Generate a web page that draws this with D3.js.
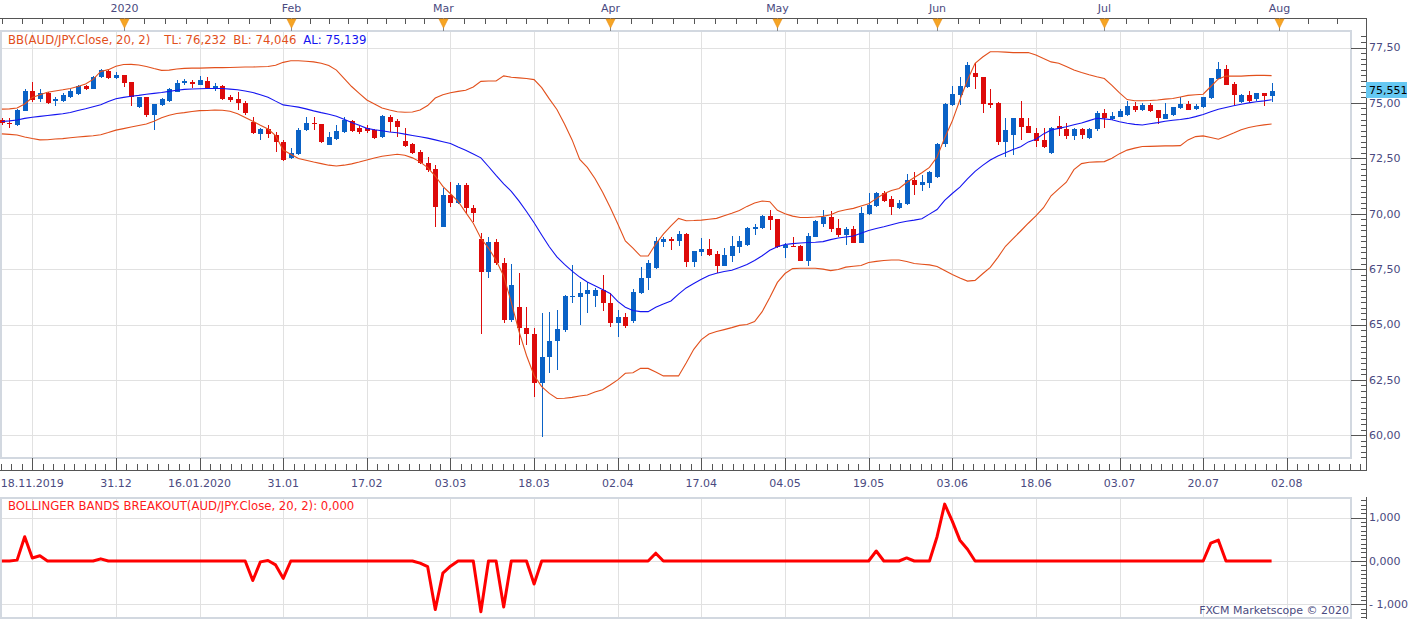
<!DOCTYPE html>
<html><head><meta charset="utf-8">
<script src="https://cdn.jsdelivr.net/npm/d3@7"></script>
<style>
html,body{margin:0;padding:0;background:#fff;}
svg{display:block;font-family:"DejaVu Sans",Verdana,sans-serif;}
</style>
</head><body>
<svg id="c" width="1423" height="619"></svg>
<script>
// ---------- DATA (bar index starts at -4) ----------
const firstIndex = -4;
const opens = [74.23,74.11,74.00,74.65,75.55,75.16,75.43,75.07,75.07,75.28,75.40,75.76,75.64,76.16,76.45,76.12,76.26,75.94,74.80,75.25,74.45,74.92,75.09,75.51,75.88,75.96,75.82,76.00,75.64,75.76,75.25,75.16,75.01,74.15,73.60,73.81,73.56,73.25,72.50,72.69,73.78,74.11,74.05,73.10,73.36,73.70,74.20,73.85,73.88,73.78,73.45,74.38,74.20,73.29,73.15,72.80,72.30,72.02,69.41,70.84,70.47,71.30,70.27,68.84,67.38,68.74,67.76,65.20,65.80,64.83,64.57,62.35,63.55,64.26,64.75,66.26,66.25,66.38,66.29,66.56,65.96,65.05,65.32,65.17,66.41,67.08,67.54,68.74,68.86,68.78,69.08,67.83,68.29,68.41,68.18,67.65,68.09,68.51,68.59,69.32,69.35,69.90,69.76,68.47,68.54,68.54,67.88,68.96,69.54,69.84,69.34,69.04,69.31,68.69,69.99,70.35,70.92,70.66,70.24,70.44,71.52,71.29,71.37,71.67,73.15,74.90,75.36,75.73,76.36,76.16,74.98,74.98,73.25,73.55,74.31,73.96,73.66,73.33,72.73,73.96,73.81,73.51,73.82,73.43,73.81,74.53,74.29,74.38,74.45,74.86,74.68,74.91,74.68,74.26,74.45,74.76,74.95,74.71,74.80,75.21,76.08,76.53,75.85,75.05,75.36,75.16,75.43,75.31];
const highs = [74.32,74.31,74.73,75.61,75.96,75.63,75.49,75.25,75.43,75.63,75.81,75.79,76.21,76.52,76.48,76.41,76.28,75.96,75.28,75.27,74.97,75.20,75.66,76.03,76.07,76.03,76.21,76.16,75.88,75.81,75.36,75.51,75.09,74.35,73.87,74.00,73.69,73.33,72.97,73.85,74.35,74.38,74.07,73.69,74.00,74.35,74.23,73.96,74.00,73.82,74.45,74.45,74.27,73.88,73.19,72.87,72.57,72.20,71.16,71.44,71.40,71.37,70.39,69.12,68.94,68.86,67.99,67.73,67.31,65.80,64.83,65.51,65.58,65.65,66.35,67.68,66.93,66.93,66.63,67.23,66.41,65.65,65.53,66.59,67.61,67.91,68.93,68.96,68.93,69.22,69.12,68.32,68.89,68.86,68.32,68.44,68.99,68.99,69.41,69.54,69.94,70.17,69.76,68.66,68.94,68.59,69.12,69.72,70.17,70.14,69.75,69.41,69.44,70.30,70.95,70.99,71.02,70.81,70.62,71.78,71.90,71.75,71.94,73.19,75.00,75.76,76.16,76.86,76.79,76.18,75.61,75.05,74.31,74.31,75.10,74.31,73.85,73.85,73.93,74.41,74.11,73.85,73.88,73.85,74.63,74.71,74.60,74.71,75.10,75.05,74.98,74.98,74.68,74.98,74.83,75.28,75.09,74.95,75.28,76.14,76.86,76.71,75.96,75.40,75.55,75.46,75.46,75.91];
const lows = [73.99,73.88,73.96,74.63,75.05,75.05,74.95,74.86,75.04,75.24,75.36,75.60,75.61,76.12,76.10,76.09,75.73,74.86,74.76,74.38,73.78,74.88,75.05,75.47,75.81,75.66,75.81,75.63,75.55,75.13,75.05,74.68,74.45,73.60,73.33,73.40,72.78,72.38,72.47,72.65,73.73,73.78,73.21,73.08,73.33,73.66,73.69,73.60,73.66,73.37,73.42,73.70,73.48,73.03,72.69,72.24,71.90,69.41,69.38,70.32,70.44,70.02,69.64,64.56,67.08,67.69,65.08,65.13,64.07,64.07,61.71,59.91,62.80,62.95,64.68,65.96,64.98,65.51,65.80,65.62,64.90,64.42,64.83,65.05,66.38,66.56,67.50,68.51,68.36,68.54,67.61,67.61,68.09,68.09,67.34,67.64,67.83,68.24,68.54,69.04,69.32,69.26,68.47,68.01,68.48,67.88,67.64,68.94,69.39,69.19,68.94,68.59,68.69,68.68,69.94,70.29,70.54,69.94,70.20,70.39,70.84,71.04,71.17,71.60,73.02,74.86,74.90,75.66,75.61,74.53,74.76,73.10,72.57,72.65,73.33,73.63,73.02,72.95,72.69,73.51,73.36,73.33,73.36,73.36,73.75,73.85,74.23,74.35,74.41,74.60,74.63,74.60,74.05,74.26,74.43,74.71,74.68,74.68,74.76,75.16,76.07,75.81,74.91,75.01,74.99,75.10,74.86,75.05];
const closes = [74.11,74.05,74.68,75.55,75.13,75.43,75.01,75.16,75.34,75.55,75.76,75.64,76.16,76.48,76.12,76.25,75.91,75.28,75.25,74.45,74.94,75.16,75.61,75.91,75.99,75.85,76.03,75.66,75.76,75.18,75.13,74.98,74.56,73.63,73.81,73.60,73.25,72.42,72.74,73.78,74.08,74.05,73.25,73.45,73.75,74.23,73.75,73.70,73.75,73.43,74.41,74.15,73.93,73.07,72.73,72.27,71.97,70.32,70.84,70.47,71.30,70.24,70.02,67.38,68.74,67.76,65.20,66.78,64.83,64.56,62.35,63.55,64.26,64.78,66.30,66.30,66.41,66.56,66.56,65.96,65.05,65.35,64.93,66.48,67.11,67.76,68.78,68.86,68.78,69.08,67.83,68.32,68.41,68.14,67.65,68.14,68.54,68.78,69.37,69.41,69.90,69.72,68.51,68.59,68.51,67.88,68.99,69.68,69.84,69.31,69.04,69.31,68.69,70.05,70.39,70.92,70.59,70.32,70.50,71.52,71.29,71.44,71.90,73.15,74.95,75.40,75.76,76.71,76.16,74.95,74.94,73.25,73.78,74.31,73.93,73.66,73.29,73.02,73.85,73.81,73.51,73.82,73.55,73.82,74.56,74.31,74.41,74.65,74.86,74.68,74.91,74.63,74.31,74.49,74.80,74.95,74.68,74.86,75.25,76.11,76.53,75.81,75.36,75.36,75.10,75.43,75.31,75.551];
const upperBand = [74.72,74.73,74.77,74.95,75.24,75.37,75.48,75.54,75.59,75.65,75.74,75.85,76.06,76.42,76.50,76.65,76.73,76.74,76.71,76.64,76.55,76.47,76.48,76.53,76.56,76.57,76.57,76.58,76.59,76.59,76.60,76.61,76.62,76.62,76.63,76.64,76.70,76.83,76.90,76.90,76.88,76.85,76.79,76.69,76.48,76.11,75.74,75.43,75.13,74.95,74.77,74.68,74.60,74.58,74.59,74.68,74.88,75.22,75.37,75.46,75.52,75.57,75.72,75.97,75.99,75.99,76.22,76.16,76.13,76.10,76.05,75.69,75.18,74.70,74.05,73.33,72.45,72.09,71.59,70.98,70.29,69.55,68.77,68.45,68.09,68.09,68.63,69.08,69.45,69.79,69.68,69.69,69.71,69.75,69.79,69.91,70.02,70.14,70.33,70.48,70.57,70.54,70.15,70.00,69.89,69.83,69.83,69.85,69.88,69.95,70.10,70.18,70.24,70.35,70.45,70.68,70.90,71.05,71.14,71.41,71.63,71.85,72.09,72.56,73.42,74.18,75.13,76.03,76.79,77.07,77.31,77.31,77.29,77.27,77.27,77.27,77.16,77.00,76.85,76.79,76.64,76.48,76.37,76.27,76.18,76.10,75.79,75.45,75.15,75.10,75.10,75.11,75.13,75.17,75.20,75.27,75.34,75.37,75.39,75.74,76.08,76.21,76.21,76.21,76.23,76.24,76.24,76.23];
const middleBand = [74.16,74.19,74.23,74.30,74.35,74.39,74.43,74.47,74.51,74.57,74.66,74.74,74.83,74.92,75.06,75.19,75.25,75.30,75.34,75.39,75.43,75.47,75.52,75.57,75.61,75.63,75.64,75.65,75.65,75.65,75.62,75.59,75.54,75.47,75.37,75.26,75.08,74.91,74.86,74.81,74.73,74.64,74.56,74.49,74.40,74.26,74.12,73.99,73.85,73.79,73.74,73.69,73.65,73.59,73.53,73.47,73.41,73.33,73.25,73.17,73.01,72.86,72.69,72.52,72.13,71.73,71.35,71.01,70.58,70.10,69.59,69.04,68.51,68.05,67.71,67.41,67.14,66.92,66.75,66.58,66.40,66.04,65.78,65.63,65.58,65.58,65.78,65.92,66.06,66.37,66.65,66.85,67.04,67.21,67.31,67.39,67.45,67.57,67.71,67.89,68.10,68.35,68.51,68.61,68.65,68.68,68.70,68.71,68.74,68.83,68.90,68.95,68.99,69.12,69.24,69.33,69.41,69.50,69.59,69.66,69.71,69.77,69.98,70.19,70.60,70.91,71.20,71.57,71.91,72.18,72.42,72.60,72.75,72.90,73.02,73.24,73.36,73.60,73.78,73.85,73.92,74.01,74.09,74.20,74.31,74.28,74.24,74.15,74.08,74.03,74.00,74.06,74.11,74.17,74.22,74.25,74.30,74.38,74.48,74.60,74.71,74.79,74.87,74.94,75.00,75.05,75.09,75.14];
const lowerBand = [73.60,73.58,73.55,73.46,73.39,73.33,73.34,73.37,73.39,73.43,73.46,73.49,73.52,73.56,73.66,73.77,73.84,73.91,73.98,74.05,74.17,74.33,74.44,74.52,74.56,74.61,74.65,74.66,74.68,74.67,74.62,74.51,74.34,74.17,73.99,73.82,73.52,72.87,72.68,72.49,72.41,72.33,72.26,72.19,72.15,72.19,72.25,72.33,72.42,72.51,72.59,72.64,72.68,72.64,72.52,72.34,72.08,71.70,71.23,70.90,70.56,70.06,69.57,68.89,68.45,67.90,67.19,66.00,64.70,63.60,62.70,62.20,61.89,61.66,61.67,61.71,61.77,61.82,61.95,62.06,62.27,62.50,62.80,62.82,63.02,63.02,62.86,62.68,62.68,62.68,63.26,63.88,64.32,64.57,64.68,64.77,64.86,64.96,65.00,65.13,65.58,66.22,66.90,67.30,67.52,67.54,67.54,67.54,67.50,67.43,67.48,67.59,67.63,67.66,67.80,67.85,67.89,67.91,67.91,67.84,67.75,67.72,67.69,67.62,67.44,67.26,67.10,66.96,66.99,67.29,67.58,68.03,68.53,68.88,69.22,69.57,69.90,70.27,70.81,71.12,71.42,71.99,72.26,72.32,72.34,72.35,72.50,72.71,72.87,72.96,73.03,73.04,73.05,73.06,73.06,73.07,73.33,73.48,73.51,73.44,73.36,73.50,73.64,73.79,73.89,73.96,74.01,74.05];
const breakout = [
  0,0,0.02,0.56,0.07,0.12,0,0,0,0,
  0,0,0,0.05,0,0,0,0,0,0,
  0,0,0,0,0,0,0,0,0,0,
  0,0,0,-0.45,-0.02,0.01,-0.09,-0.40,0,0,
  0,0,0,0,0,0,0,0,0,0,
  0,0,0,0,0,-0.05,-0.13,-1.12,-0.28,-0.12,
  0,0,0,-1.17,0,0,-1.06,0,0,0,
  -0.53,0,0,0,0,0,0,0,0,0,
  0,0,0,0,0,0,0.18,0,0,0,
  0,0,0,0,0,0,0,0,0,0,
  0,0,0,0,0,0,0,0,0,0,
  0,0,0,0,0,0.23,0,0,0,0.07,
  0,0,0,0.56,1.31,0.92,0.48,0.27,0,0,
  0,0,0,0,0,0,0,0,0,0,
  0,0,0,0,0,0,0,0,0,0,
  0,0,0,0,0,0,0,0,0,0.41,
  0.48,0,0,0,0,0,0,0];
const dateTickLabels = ["18.11.2019","31.12","16.01.2020","31.01","17.02","03.03","18.03","02.04","17.04","04.05","19.05","03.06","18.06","03.07","20.07","02.08"];
const dateTickIndex = [0,11,22,33,44,55,66,77,88,99,110,121,132,143,154,165];
const monthLabels = ["2020","Feb","Mar","Apr","May","Jun","Jul","Aug"];
const monthIndex = [12,34,54,76,98,119,141,164];
const priceTicks = [60,62.5,65,67.5,70,72.5,75,77.5];
const breakoutTicks = [-1,0,1];
const legendParts = ["BB(AUD/JPY.Close, 20, 2)","TL: 76,232","BL: 74,046","AL: 75,139"];
const lastPrice = 75.551;

// ---------- STYLE ----------
const C = {
  up:"#0a62c6", down:"#dd0a0a", band:"#e2501c", mid:"#1414f0", brk:"#ff0000",
  grid:"#e1e1e1", frame:"#d2d8e0", axis:"#555", txt:"#4a4a80", tri:"#f6a524",
  priceBox:"#66c8f2"
};
const legendX = [8, 164.3, 233.3, 303.3];
const legendColor = [C.band, C.band, C.band, C.mid];
const svg = d3.select("#c");
const idx = d3.range(opens.length).map(k => k + firstIndex);
const x = d3.scaleLinear().domain([0,165]).range([32.3,1286.8]);
const y = d3.scaleLinear().domain([60,77.5]).range([435.3,47.5]);
const yb = d3.scaleLinear().domain([-1,1]).range([604.4,517.6]);
const P = {l:0, r:1351, t:31, b:458};
const L = {l:0, r:1351, t:497.5, b:618};
const AX = 1366.5;
const cr = v => Math.round(v) + 0.5;
const fmtP = v => d3.format(".2f")(v).replace(".", ",");
const fmtB = v => (v < 0 ? "- " : "") + d3.format(".3f")(Math.abs(v)).replace(".", ",");

const g = svg.append("g");
const grid = g.append("g").attr("stroke", C.grid).attr("shape-rendering","crispEdges");
priceTicks.forEach(v => grid.append("line").attr("x1",P.l).attr("x2",P.r).attr("y1",cr(y(v))).attr("y2",cr(y(v))));
dateTickIndex.forEach(i => grid.append("line").attr("x1",cr(x(i))).attr("x2",cr(x(i))).attr("y1",P.t).attr("y2",P.b));
breakoutTicks.forEach(v => grid.append("line").attr("x1",L.l).attr("x2",L.r).attr("y1",cr(yb(v))).attr("y2",cr(yb(v))));
dateTickIndex.forEach(i => grid.append("line").attr("x1",cr(x(i))).attr("x2",cr(x(i))).attr("y1",L.t).attr("y2",L.b));

[P,L].forEach(f => {
  g.append("path").attr("d",`M${f.l+0.5},${f.t} H${f.r} V${f.b} H${f.l+0.5} Z`)
   .attr("fill","none").attr("stroke",C.frame).attr("stroke-width",2).attr("shape-rendering","crispEdges");
});

// candles
const cg = g.append("g").attr("shape-rendering","crispEdges");
idx.forEach((i,k) => {
  const o = opens[k], c = closes[k], h = highs[k], lo = lows[k];
  const col = c >= o ? C.up : C.down;
  const cx = Math.round(x(i));
  cg.append("line").attr("x1",cx+0.5).attr("x2",cx+0.5).attr("y1",y(h)).attr("y2",y(lo)).attr("stroke",col);
  const yt = y(Math.max(o,c)), yB = y(Math.min(o,c));
  cg.append("rect").attr("x",cx-2).attr("width",5).attr("y",yt).attr("height",Math.max(1.2,yB-yt)).attr("fill",col);
});

// bands
const line = arr => d3.line().x((d,k)=>x(k+firstIndex)).y(d=>y(d))(arr);
g.append("path").attr("d",line(upperBand)).attr("fill","none").attr("stroke",C.band).attr("stroke-width",1.1);
g.append("path").attr("d",line(lowerBand)).attr("fill","none").attr("stroke",C.band).attr("stroke-width",1.1);
g.append("path").attr("d",line(middleBand)).attr("fill","none").attr("stroke",C.mid).attr("stroke-width",1.1);

// breakout line
g.append("path").attr("d", d3.line().x((d,k)=>x(k+firstIndex)).y(d=>yb(d))(breakout))
  .attr("fill","none").attr("stroke",C.brk).attr("stroke-width",3).attr("stroke-linejoin","round");

// legends
legendParts.forEach((t,k) => {
  g.append("text").attr("x",legendX[k]).attr("y",39.5).attr("dy","0.35em").attr("font-size",11.7)
    .attr("fill", legendColor[k]).text(t);
});
g.append("text").attr("x",8).attr("y",505.5).attr("dy","0.35em").attr("font-size",11.7).attr("fill","#ff1a1a")
  .text("BOLLINGER BANDS BREAKOUT(AUD/JPY.Close, 20, 2): 0,000");
g.append("text").attr("x",1349).attr("y",610.5).attr("dy","0.35em").attr("font-size",11).attr("fill",C.txt)
  .attr("text-anchor","end").text("FXCM Marketscope \u00A9 2020");

// ---------- AXES ----------
const ax = g.append("g").attr("stroke",C.axis).attr("shape-rendering","crispEdges");
ax.append("line").attr("x1",0).attr("x2",AX).attr("y1",18.5).attr("y2",18.5);
const monthBounds = [-9.4].concat(monthIndex, [194.5]);
for (let m = 0; m < monthBounds.length-1; m++) {
  const a = monthBounds[m], b = monthBounds[m+1];
  for (let s = 1; s < 8; s++) {
    const px = x(a + (b-a)*s/8);
    if (px > 0 && px < AX) ax.append("line").attr("x1",cr(px)).attr("x2",cr(px)).attr("y1",18).attr("y2",23.5);
  }
}
monthIndex.forEach((i,m) => {
  const px = Math.round(x(i)) + 0.5;
  ax.append("line").attr("x1",px).attr("x2",px).attr("y1",18).attr("y2",31).attr("stroke","#888");
  g.append("path").attr("d",`M${px-4.5},19 L${px+4.5},19 L${px},28 Z`).attr("fill",C.tri).attr("stroke","#e88c10").attr("stroke-width",0.6);
  g.append("text").attr("x",px).attr("y",8.5).attr("dy","0.35em").attr("text-anchor","middle")
    .attr("font-size",11).attr("fill",C.txt).text(monthLabels[m]);
});
ax.append("line").attr("x1",0).attr("x2",AX).attr("y1",470.5).attr("y2",470.5);
for (let t = 0; t < dateTickIndex.length + 1; t++) {
  const a = t === 0 ? -11 : dateTickIndex[t-1];
  const b = t < dateTickIndex.length ? dateTickIndex[t] : dateTickIndex[t-1] + 11;
  for (let s = 1; s < 8; s++) {
    const px = x(a + (b-a)*s/8);
    if (px > 0 && px < 1362) ax.append("line").attr("x1",cr(px)).attr("x2",cr(px)).attr("y1",464).attr("y2",470.5);
  }
}
dateTickIndex.forEach((i,k) => {
  ax.append("line").attr("x1",cr(x(i))).attr("x2",cr(x(i))).attr("y1",458).attr("y2",470.5);
  g.append("text").attr("x",x(i)).attr("y",483.5).attr("dy","0.35em").attr("text-anchor","middle")
    .attr("font-size",11).attr("fill",C.txt).text(dateTickLabels[k]);
});
ax.append("line").attr("x1",AX).attr("x2",AX).attr("y1",18).attr("y2",471);
d3.range(59.0, 78.01, 0.25).forEach(v => {
  const py = cr(y(v));
  if (py > 33 && py < 459) ax.append("line").attr("x1",1361).attr("x2",AX).attr("y1",py).attr("y2",py);
});
priceTicks.forEach(v => {
  ax.append("line").attr("x1",P.r).attr("x2",AX).attr("y1",cr(y(v))).attr("y2",cr(y(v)));
  g.append("text").attr("x",1369).attr("y",y(v)).attr("dy","0.35em").attr("font-size",11).attr("fill",C.txt).text(fmtP(v));
});
g.append("rect").attr("x",1366).attr("y",Math.round(y(lastPrice))-9).attr("width",41).attr("height",16).attr("fill",C.priceBox);
g.append("text").attr("x",1369).attr("y",Math.round(y(lastPrice))-1).attr("dy","0.35em").attr("font-size",11).attr("fill","#000").text(d3.format(".3f")(lastPrice).replace(".",","));
ax.append("line").attr("x1",AX).attr("x2",AX).attr("y1",497).attr("y2",619);
d3.range(-13, 15).forEach(n => {
  const py = cr(yb(n/10));
  if (py > 498 && py < 619) ax.append("line").attr("x1",1361).attr("x2",AX).attr("y1",py).attr("y2",py);
});
breakoutTicks.forEach(v => {
  ax.append("line").attr("x1",L.r).attr("x2",AX).attr("y1",cr(yb(v))).attr("y2",cr(yb(v)));
  g.append("text").attr("x",1369).attr("y",yb(v)).attr("dy","0.35em").attr("font-size",11).attr("fill",C.txt).text(fmtB(v));
});
</script>
</body></html>
